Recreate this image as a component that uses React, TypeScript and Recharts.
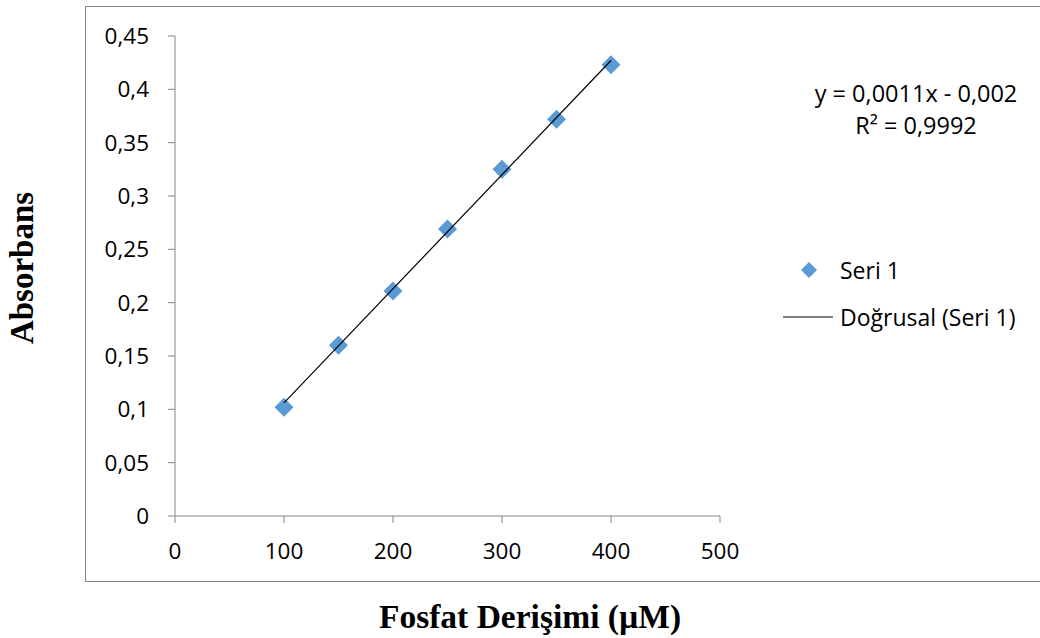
import React from "react"
import { Scatter, ScatterChart, XAxis, YAxis, Legend } from "recharts"

const concentrations = [100, 150, 200, 250, 300, 350, 400]
const absorbance = [0.102, 0.16, 0.211, 0.269, 0.325, 0.372, 0.423]
const trendX = [100, 400]
const trendY = [0.106, 0.427]
const xTicks = [0, 100, 200, 300, 400, 500]
const yTicks = [0, 0.05, 0.1, 0.15, 0.2, 0.25, 0.3, 0.35, 0.4, 0.45]
const seriesName = "Seri 1"
const trendName = "Doğrusal (Seri 1)"
const equationLines = ["y = 0,0011x - 0,002", "R² = 0,9992"]

const points = concentrations.map((x, i) => ({ x, y: absorbance[i] }))
const trend = trendX.map((x, i) => ({ x, y: trendY[i] }))

const BLUE = "#5B9BD5"
const AXIS = "#868686"
const FONT = "'Open Sans', sans-serif"
const SERIF = "'Liberation Serif', 'Times New Roman', serif"

const Diamond = (props: any) => {
  const { cx, cy } = props
  const r = 9.5
  return <polygon points={`${cx},${cy - r} ${cx + r},${cy} ${cx},${cy + r} ${cx - r},${cy}`} fill={BLUE} />
}

// markers first, trend line second (as in the original)
const LegendContent = (props: any) => {
  const { payload = [] } = props
  const items = [...payload].sort((a: any, b: any) => (a.type === "line" ? 1 : 0) - (b.type === "line" ? 1 : 0))
  return (
    <div style={{ fontFamily: FONT, fontSize: 23, color: "#000" }}>
      {items.map((entry: any, i: number) => (
        <div key={i} style={{ display: "flex", alignItems: "center", height: 30, marginBottom: 17 }}>
          <svg width={50} height={30} style={{ marginRight: 7 }}>
            {entry.type === "line" ? (
              <line x1={0} y1={15} x2={50} y2={15} stroke="#000" strokeWidth={1} />
            ) : (
              <polygon points="26,7 34,15 26,23 18,15" fill={BLUE} />
            )}
          </svg>
          <span>{entry.value}</span>
        </div>
      ))}
    </div>
  )
}

export default function App() {
  const fmt = (v: number) => String(v).replace(".", ",")
  return (
    <div style={{ position: "absolute", left: 0, top: 0, width: 1040, height: 638, background: "#fff", overflow: "hidden" }}>
      <div
        style={{
          position: "absolute",
          left: 85,
          top: 6,
          width: 1000,
          height: 576,
          border: `1.5px solid ${AXIS}`,
          boxSizing: "border-box",
        }}
      />
      <div style={{ position: "absolute", left: 0, top: 0 }}>
        <ScatterChart width={1040} height={638} margin={{ top: 36, right: 320, bottom: 92, left: 100 }}>
          <XAxis
            type="number"
            dataKey="x"
            domain={[0, 500]}
            ticks={xTicks}
            height={30}
            stroke={AXIS}
            tickSize={7}
            tickMargin={20}
            tick={{ fontSize: 22.5, fill: "#000", fontFamily: FONT }}
            allowDataOverflow
          />
          <YAxis
            type="number"
            dataKey="y"
            domain={[0, 0.45]}
            ticks={yTicks}
            width={75}
            stroke={AXIS}
            tickSize={7}
            tickMargin={19}
            tickFormatter={fmt}
            tick={{ fontSize: 22.5, fill: "#000", fontFamily: FONT }}
            allowDataOverflow
          />
          <Legend
            layout="vertical"
            align="center"
            verticalAlign="middle"
            wrapperStyle={{ left: 783, top: 255, width: 260 }}
            content={<LegendContent />}
          />
          <Scatter name={seriesName} data={points} fill={BLUE} shape={<Diamond />} legendType="diamond" isAnimationActive={false} />
          <Scatter
            name={trendName}
            data={trend}
            fill="#000"
            line={{ stroke: "#000", strokeWidth: 1.2 }}
            shape={() => <g />}
            legendType="line"
            isAnimationActive={false}
          />
        </ScatterChart>
      </div>
      <div
        style={{
          position: "absolute",
          left: 806,
          top: 77,
          width: 220,
          textAlign: "center",
          fontFamily: FONT,
          fontSize: 23.5,
          lineHeight: "32px",
          color: "#000",
        }}
      >
        {equationLines.map((l, i) => (
          <div key={i}>{l}</div>
        ))}
      </div>
      <div
        style={{
          position: "absolute",
          left: 22,
          top: 268,
          transform: "translate(-50%, -50%) rotate(-90deg)",
          fontFamily: SERIF,
          fontWeight: "bold",
          fontSize: 33,
          whiteSpace: "nowrap",
          color: "#000",
        }}
      >
        Absorbans
      </div>
      <div
        style={{
          position: "absolute",
          left: 530,
          top: 617,
          transform: "translate(-50%, -50%)",
          fontFamily: SERIF,
          fontWeight: "bold",
          fontSize: 33.5,
          whiteSpace: "nowrap",
          color: "#000",
        }}
      >
        Fosfat Derişimi (µM)
      </div>
    </div>
  )
}
